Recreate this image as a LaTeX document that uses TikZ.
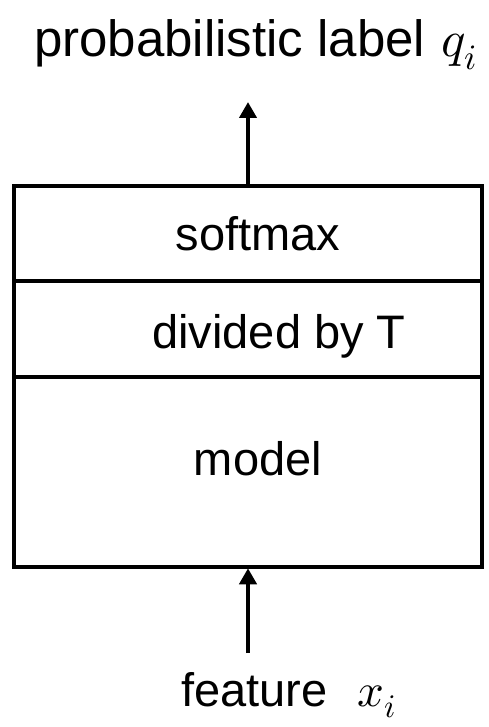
\documentclass[tikz,border=0pt]{standalone}
\usepackage{fontspec}
\usepackage{unicode-math}
\setmainfont{Liberation Sans}
\setmathfont{Latin Modern Math}
\usetikzlibrary{arrows.meta}

\tikzset{
  stage/.style={draw, line width=4.5pt, rectangle, minimum width=468pt, inner sep=0pt},
  stagetext/.style={anchor=base, font=\fontsize{47}{50}\selectfont, inner sep=0pt},
  endtext/.style={anchor=base west, inner sep=0pt},
  flow/.style={line width=4pt, -{Triangle[width=17pt, length=16pt]}},
}

\begin{document}
\begin{tikzpicture}[x=1pt, y=-1pt]
  \useasboundingbox (0,0) rectangle (489,727);

  % stacked stages of the network
  \node[stage, minimum height=95pt]  (soft)  at (248,233.5) {};
  \node[stage, minimum height=96pt]  (div)   at (248,329)   {};
  \node[stage, minimum height=190pt] (model) at (248,472)   {};

  \node[stagetext] (softtxt)  at (258,250) {softmax};
  \node[stagetext] (divtxt)   at (279,348) {divided by T};
  \node[stagetext] (modeltxt) at (258,475) {model};

  % output and input labels
  \node[endtext, font=\fontsize{51}{54}\selectfont] (out) at (34,57)
    {probabilistic label\hspace{16pt}$q_i$};
  \node[endtext, font=\fontsize{47}{50}\selectfont] (in) at (181,706)
    {feature\hspace{30pt}$x_i$};

  \coordinate (outtip) at (248,102);
  \coordinate (intail) at (248,653);

  \draw[flow] (soft.north) -- (outtip);
  \draw[flow, shorten >=-1pt] (intail) -- (model.south);
\end{tikzpicture}
\end{document}
